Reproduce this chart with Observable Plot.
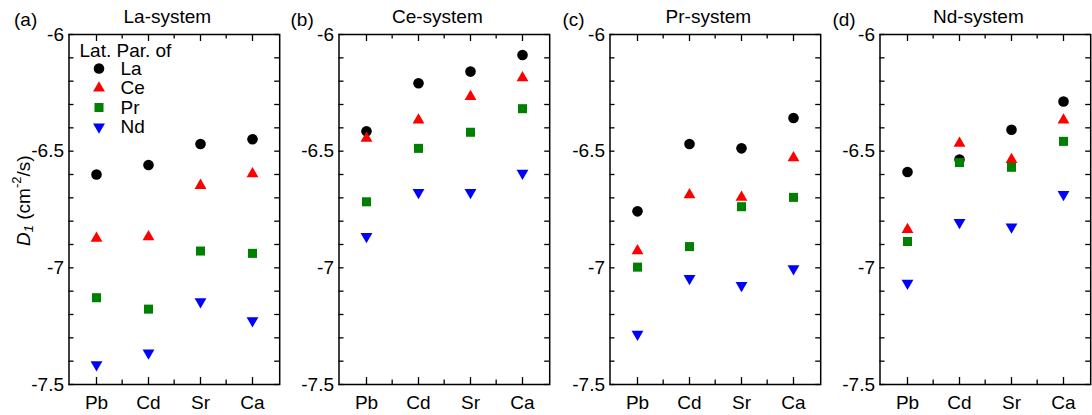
<!DOCTYPE html>
<html>
<head>
<meta charset="utf-8">
<script src="https://cdn.jsdelivr.net/npm/d3@7"></script>
<script src="https://cdn.jsdelivr.net/npm/@observablehq/plot@0.6"></script>
<style>
  html, body { margin: 0; padding: 0; background: #fff; overflow: hidden; }
  #wrap { position: relative; width: 1092px; height: 415px; }
  #wrap > svg { position: absolute; top: 0; }
</style>
</head>
<body>
<div id="wrap"></div>
<script>
// ---- data ----
const categories = ["Pb", "Cd", "Sr", "Ca"];
const seriesNames = ["La", "Ce", "Pr", "Nd"];
const seriesColors = ["#000000", "#ff0000", "#008000", "#0000ff"];
const systemTitles = ["La-system", "Ce-system", "Pr-system", "Nd-system"];
const panelLabels = ["(a)", "(b)", "(c)", "(d)"];
const legendTitle = "Lat. Par. of";
const yTickValues = [-7.5, -7, -6.5, -6];
const yTickLabels = ["-7.5", "-7", "-6.5", "-6"];
const yMinorTicks = [-7.4, -7.3, -7.2, -7.1, -6.9, -6.8, -6.7, -6.6, -6.4, -6.3, -6.2, -6.1];

// rows: La, Ce, Pr, Nd ; columns: Pb, Cd, Sr, Ca
const laSystem = [
  [-6.600, -6.559, -6.469, -6.449],
  [-6.874, -6.867, -6.647, -6.597],
  [-7.128, -7.177, -6.928, -6.938],
  [-7.415, -7.365, -7.145, -7.226]
];
const ceSystem = [
  [-6.415, -6.209, -6.159, -6.088],
  [-6.445, -6.367, -6.266, -6.186],
  [-6.717, -6.488, -6.419, -6.318],
  [-6.865, -6.677, -6.677, -6.594]
];
const prSystem = [
  [-6.758, -6.469, -6.488, -6.358],
  [-6.927, -6.687, -6.698, -6.529],
  [-6.997, -6.909, -6.738, -6.698],
  [-7.284, -7.045, -7.075, -7.004]
];
const ndSystem = [
  [-6.589, -6.536, -6.408, -6.287],
  [-6.836, -6.466, -6.536, -6.367],
  [-6.887, -6.549, -6.569, -6.458],
  [-7.066, -6.805, -6.825, -6.685]
];
const systems = [laSystem, ceSystem, prSystem, ndSystem];

// ---- styles ----
const seriesSymbols = ["circle", "triangle", "square", "triangle"];
const seriesRotate = [0, 0, 0, 180];
const seriesR = [5.3, 4.4, 5.1, 4.4];
const FONT = "'Liberation Sans', Arial, Helvetica, sans-serif";
const FS = 19;

const frameLefts = [68.5, 338.5, 609.3, 879.3];
const frameW = 210.7;
const mLeft = 68.5, mTop = 34, mBottom = 31, H = 415;
const frameH = H - mTop - mBottom;
const labelDx = [-55, -48.5, -47.6, -47.6];
const legendDy = [34, 53.5, 73, 92.5];

const wrap = document.getElementById("wrap");

systems.forEach((sys, p) => {
  const rows = [];
  sys.forEach((vals, s) => vals.forEach((v, k) => rows.push({cat: categories[k], s, value: v})));
  const step = frameW / categories.length;
  const width = 283;
  const allY = yMinorTicks.concat(yTickValues);

  const marks = [
    // ticks (inward)
    Plot.ruleX(categories, {x: d => d, insetTop: frameH - 7, stroke: "black", strokeWidth: 1.3}),
    Plot.ruleX(categories, {x: d => d, insetBottom: frameH - 7, stroke: "black", strokeWidth: 1.3}),
    Plot.ruleX(categories.slice(1), {x: d => d, dx: -step / 2, insetTop: frameH - 4.5, stroke: "black", strokeWidth: 1.3}),
    Plot.ruleX(categories.slice(1), {x: d => d, dx: -step / 2, insetBottom: frameH - 4.5, stroke: "black", strokeWidth: 1.3}),
    Plot.ruleY(allY, {y: d => d, insetRight: frameW - 5, stroke: "black", strokeWidth: 1.3}),
    Plot.ruleY(allY, {y: d => d, insetLeft: frameW - 5, stroke: "black", strokeWidth: 1.3}),
    Plot.frame({stroke: "black", strokeWidth: 1.5}),
    // tick labels
    Plot.text(yTickValues, {y: d => d, text: (d, i) => yTickLabels[i], frameAnchor: "left", textAnchor: "end", lineAnchor: "middle", dx: -5, fontSize: FS, fill: "black"}),
    Plot.text(categories, {x: d => d, text: d => d, frameAnchor: "bottom", lineAnchor: "middle", dy: 18, fontSize: FS, fill: "black"}),
    // titles
    Plot.text([systemTitles[p]], {text: d => d, frameAnchor: "top", lineAnchor: "bottom", dy: -11.3, dx: -7, fontSize: FS, fill: "black"}),
    Plot.text([panelLabels[p]], {text: d => d, frameAnchor: "top-left", textAnchor: "start", lineAnchor: "bottom", dx: labelDx[p], dy: -9, fontSize: FS, fill: "black"}),
    // data
    ...seriesNames.map((name, s) => Plot.dot(rows.filter(r => r.s === s), {
      x: "cat", y: "value", symbol: seriesSymbols[s], fill: seriesColors[s],
      r: seriesR[s], rotate: seriesRotate[s], stroke: "none"
    }))
  ];

  if (p === 0) {
    marks.push(Plot.text([legendTitle], {text: d => d, frameAnchor: "top-left", textAnchor: "start", lineAnchor: "middle", dx: 10.5, dy: 16, fontSize: FS, fill: "black"}));
    seriesNames.forEach((name, s) => {
      marks.push(Plot.dot([name], {frameAnchor: "top-left", dx: 30, dy: legendDy[s], symbol: seriesSymbols[s], fill: seriesColors[s], r: seriesR[s], rotate: seriesRotate[s], stroke: "none"}));
      marks.push(Plot.text([name], {text: d => d, frameAnchor: "top-left", textAnchor: "start", lineAnchor: "middle", dx: 51.5, dy: legendDy[s], fontSize: FS, fill: "black"}));
    });
  }

  const chart = Plot.plot({
    width, height: H,
    marginLeft: mLeft, marginRight: width - mLeft - frameW, marginTop: mTop, marginBottom: mBottom,
    x: {type: "point", domain: categories, padding: 0.5, axis: null},
    y: {domain: [-7.5, -6], axis: null},
    style: {background: "transparent", overflow: "visible", fontFamily: FONT, fontSize: FS + "px", color: "black"},
    marks
  });
  chart.style.left = (frameLefts[p] - mLeft) + "px";
  chart.style.maxWidth = "none";

  if (p === 0) {
    const t = d3.select(chart).append("text")
      .attr("transform", `translate(23,246) rotate(-90)`)
      .attr("text-anchor", "start")
      .attr("dominant-baseline", "central")
      .attr("font-family", FONT)
      .attr("font-size", FS)
      .attr("fill", "black");
    t.append("tspan").attr("font-style", "italic").text("D");
    t.append("tspan").attr("font-style", "italic").attr("font-size", 13).attr("dy", 5).text("1");
    t.append("tspan").attr("dy", -5).text(" (cm");
    t.append("tspan").attr("font-size", 13).attr("dy", -7).text("-2");
    t.append("tspan").attr("dy", 7).text("/s)");
  }
  wrap.appendChild(chart);
});
</script>
</body>
</html>
